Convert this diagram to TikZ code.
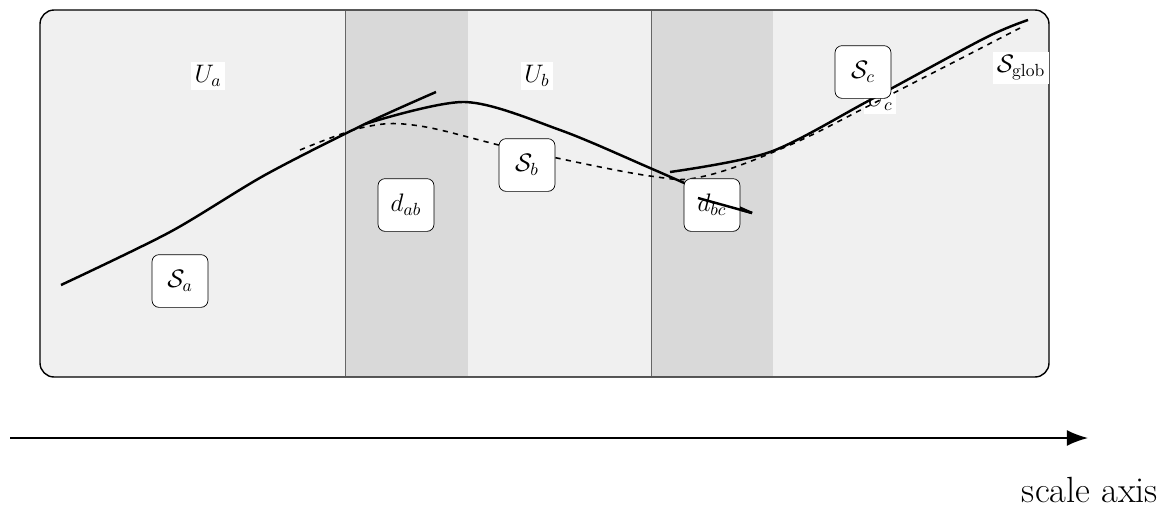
\documentclass[tikz,border=0pt]{standalone}
\usepackage{amsmath}
\usetikzlibrary{arrows.meta}
\begin{document}
\begin{tikzpicture}[x=0.02cm,y=-0.02cm,
    regionlbl/.style={fill=white,inner sep=2pt,font=\Large},
    scalebox/.style={draw,fill=white,rounded corners=4pt,minimum width=56pt*0.02/0.0352,minimum height=30pt,font=\Large},
    curve/.style={line width=1.4pt},
    globcurve/.style={dashed,line width=0.9pt}]
\useasboundingbox (0,0) rectangle (1171,508);
% Outer domain
\draw[fill=gray!12,rounded corners=8pt,line width=0.8pt] (40,10) rectangle (1049,377);
% Overlap bands
\fill[gray!30] (345,11) rectangle (468,376);
\fill[gray!30] (651,11) rectangle (773,376);
\draw[gray!80!black] (345,11) -- (345,376);
\draw[gray!80!black] (651,11) -- (651,376);
% Labels of the sub-ranges
\node[regionlbl] (ua) at (208,76) {$U_a$};
\node[regionlbl] (ub) at (537,76) {$U_b$};
\node[regionlbl] (uc) at (880,100) {$U_c$};
\node[regionlbl] (sglob) at (1021,68) {$\mathcal{S}_{\text{glob}}$};
% Global fit
\draw[globcurve] plot[smooth,tension=0.6] coordinates {(300,150) (365,127) (420,126) (520,150) (650,176) (705,176) (790,145) (880,100) (1020,28)};
% Local fits
\draw[curve] plot[smooth,tension=0.5] coordinates {(61,285) (170,232) (265,175) (365,124) (436,92)};
\draw[curve] plot[smooth,tension=0.5] coordinates {(365,124) (465,102) (560,130) (650,168) (752,213)};
\draw[curve] plot[smooth,tension=0.5] coordinates {(670,172) (770,152) (870,100) (985,38) (1028,20)};
% Boxes
\node[scalebox,minimum width=56pt*0.02/0.0352] (sa) at (180,281) {$\mathcal{S}_a$};
\node[scalebox] (dab) at (406,205) {$d_{ab}$};
\node[scalebox] (sb) at (527,165) {$\mathcal{S}_b$};
\node[scalebox] (sc) at (863,72) {$\mathcal{S}_c$};
\draw[curve] (690,195) -- (752,213);
\node[scalebox] (dbc) at (712,205) {$d_{bc}$};
\draw[curve] (698,198) -- (752,213);
% Scale axis
\coordinate (axs) at (10,438);
\coordinate (axe) at (1088,438);
\draw[-{Latex[length=12pt,width=9pt]},line width=0.9pt] (axs) -- (axe);
\node[font=\huge,anchor=center] (axlbl) at (1090,490) {scale axis};
\end{tikzpicture}
\end{document}
